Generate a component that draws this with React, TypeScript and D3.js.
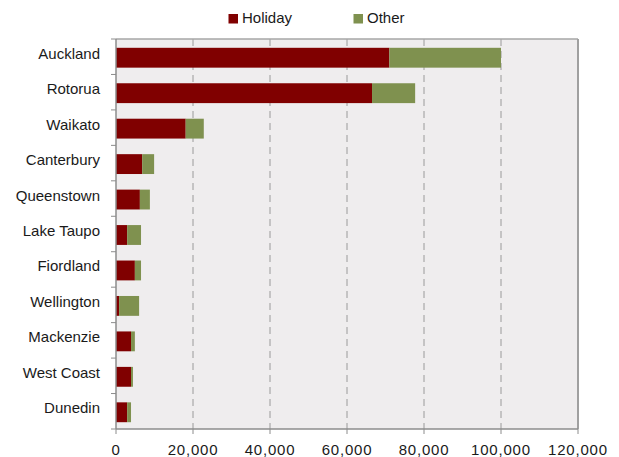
import React from "react";
import * as d3 from "d3";

const categories = ["Auckland", "Rotorua", "Waikato", "Canterbury", "Queenstown", "Lake Taupo", "Fiordland", "Wellington", "Mackenzie", "West Coast", "Dunedin"];
const holiday = [71000, 66500, 18100, 6800, 6200, 2900, 4900, 800, 3900, 3900, 2900];
const other = [29000, 11200, 4700, 3100, 2600, 3600, 1600, 5200, 1000, 500, 1000];
const xTicks = [0, 20000, 40000, 60000, 80000, 100000, 120000];
const seriesNames = ["Holiday", "Other"];
const colors = ["#800000", "#7f914f"];

export default function App() {
  const W = 619, H = 457;
  const left = 116, right = 578, top = 39, bottom = 429;
  const x = d3.scaleLinear().domain([0, 120000]).range([left, right]);
  const y = d3.scaleBand().domain(categories).range([top, bottom]).paddingInner(0.44).paddingOuter(0.22);
  const fmt = d3.format(",");
  const font = "Liberation Sans, Arial, sans-serif";
  const band = (bottom - top) / categories.length;
  return (
    <svg width={W} height={H} style={{ position: "absolute", left: 0, top: 0 }} fontFamily={font}>
      <rect x={0} y={0} width={W} height={H} fill="#ffffff" />
      <rect x={left} y={top} width={right - left} height={bottom - top} fill="#efedee" />
      {xTicks.slice(1, -1).map((t) => (
        <line key={t} x1={x(t)} x2={x(t)} y1={top} y2={bottom} stroke="#9a9a9a" strokeWidth={1} strokeDasharray="7,5" />
      ))}
      <line x1={left} x2={right} y1={top} y2={top} stroke="#a6a6a6" strokeWidth={1.5} />
      <line x1={right} x2={right} y1={top} y2={bottom} stroke="#a0a0a0" strokeWidth={2} />
      {categories.map((c, i) => {
        const y0 = y(c)! + 1;
        const h = y.bandwidth();
        return (
          <g key={c}>
            <rect x={x(0)} y={y0} width={x(holiday[i]) - x(0)} height={h} fill={colors[0]} />
            <rect x={x(holiday[i])} y={y0} width={x(holiday[i] + other[i]) - x(holiday[i])} height={h} fill={colors[1]} />
            <text x={100} y={y0 + h / 2 + 1} textAnchor="end" fontSize={15} fill="#1a1a1a">{c}</text>
          </g>
        );
      })}
      <line x1={left} x2={left} y1={top} y2={bottom} stroke="#8c8c8c" strokeWidth={1.5} />
      {d3.range(categories.length + 1).map((i) => (
        <line key={i} x1={left - 5} x2={left} y1={top + i * band} y2={top + i * band} stroke="#8c8c8c" strokeWidth={1} />
      ))}
      <line x1={left} x2={right} y1={bottom} y2={bottom} stroke="#8c8c8c" strokeWidth={1.5} />
      {xTicks.map((t) => (
        <g key={t}>
          <line x1={x(t)} x2={x(t)} y1={bottom} y2={bottom + 5} stroke="#8c8c8c" strokeWidth={1} />
          <text x={x(t)} y={455} textAnchor="middle" fontSize={15} letterSpacing={0.8} fill="#1a1a1a">{fmt(t)}</text>
        </g>
      ))}
      {seriesNames.map((s, i) => {
        const lx = i === 0 ? 228.5 : 353.5;
        return (
          <g key={s}>
            <rect x={lx} y={14} width={9.5} height={9.5} fill={colors[i]} />
            <text x={lx + 13.5} y={22.5} fontSize={15} fill="#1a1a1a">{s}</text>
          </g>
        );
      })}
    </svg>
  );
}
